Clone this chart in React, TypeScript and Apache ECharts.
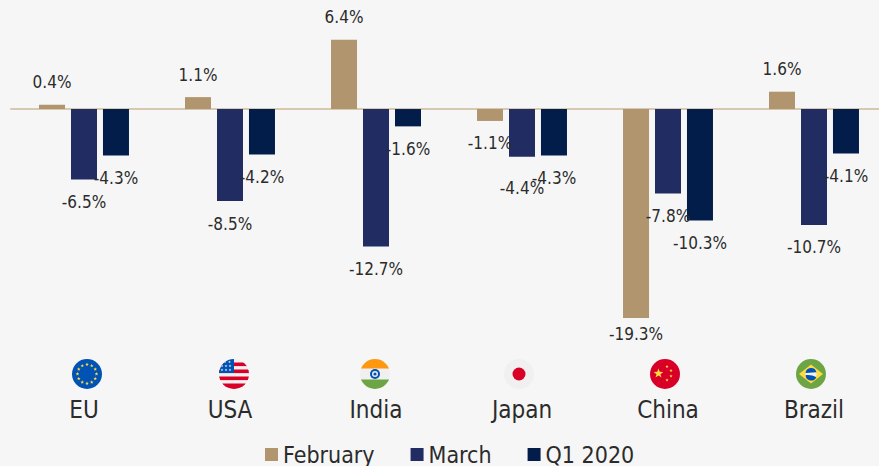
import React, { useEffect, useRef } from "react";
import * as echarts from "echarts";

const categories = ["EU", "USA", "India", "Japan", "China", "Brazil"];
const february = [0.4, 1.1, 6.4, -1.1, -19.3, 1.6];
const march = [-6.5, -8.5, -12.7, -4.4, -7.8, -10.7];
const q1 = [-4.3, -4.2, -1.6, -4.3, -10.3, -4.1];

const FONT = "'DejaVu Sans Condensed', 'DejaVu Sans', sans-serif";
const INK = "#2b2b2b";

const star = (cx: number, cy: number, r: number, fill: string, rot = 0) => {
  const pts: string[] = [];
  for (let i = 0; i < 10; i++) {
    const a = -Math.PI / 2 + rot + (i * Math.PI) / 5;
    const rr = i % 2 === 0 ? r : r * 0.42;
    pts.push(`${(cx + rr * Math.cos(a)).toFixed(2)},${(cy + rr * Math.sin(a)).toFixed(2)}`);
  }
  return `<polygon points="${pts.join(" ")}" fill="${fill}"/>`;
};

const wrap = (id: string, body: string) =>
  "data:image/svg+xml;utf8," +
  encodeURIComponent(
    `<svg xmlns="http://www.w3.org/2000/svg" width="30" height="30" viewBox="0 0 30 30"><defs><clipPath id="${id}"><circle cx="15" cy="15" r="15"/></clipPath></defs><g clip-path="url(#${id})">${body}</g></svg>`
  );

const euStars = Array.from({ length: 12 }, (_, i) => {
  const a = (i * Math.PI) / 6;
  return star(15 + 9.5 * Math.sin(a), 15 - 9.5 * Math.cos(a), 1.9, "#ffda44");
}).join("");

const usStripes = [0, 1, 2, 3]
  .map((i) => `<rect x="0" y="${3.5 + i * 7}" width="30" height="3.6" fill="#d80027"/>`)
  .join("");
const usStars = [
  [6, 3], [10.5, 3], [3, 7], [7, 7], [11, 7], [3, 11], [7, 11], [11, 11],
]
  .map(([x, y]) => star(x, y, 1.4, "#f0f0f0"))
  .join("");

const flags = [
  wrap("eu", `<rect width="30" height="30" fill="#0052b4"/>${euStars}`),
  wrap(
    "us",
    `<rect width="30" height="30" fill="#f0f0f0"/>${usStripes}<rect y="25" width="30" height="5" fill="#d80027"/><rect width="15" height="14" fill="#0052b4"/>${usStars}`
  ),
  wrap(
    "in",
    `<rect width="30" height="30" fill="#f0f0f0"/><rect width="30" height="9.5" fill="#ff9811"/><rect y="20.5" width="30" height="9.5" fill="#6da544"/><circle cx="15" cy="15" r="5" fill="#0052b4"/><circle cx="15" cy="15" r="3" fill="#f0f0f0"/><circle cx="15" cy="15" r="1.6" fill="#0052b4"/>`
  ),
  wrap("jp", `<rect width="30" height="30" fill="#f0f0f0"/><circle cx="15" cy="15" r="6.5" fill="#d80027"/>`),
  wrap(
    "cn",
    `<rect width="30" height="30" fill="#d80027"/>${star(8.5, 14.5, 5, "#ffda44")}${star(17, 7.5, 1.8, "#ffda44")}${star(21, 11.5, 1.8, "#ffda44")}${star(21, 17, 1.8, "#ffda44")}${star(17, 21, 1.8, "#ffda44")}`
  ),
  wrap(
    "br",
    `<rect width="30" height="30" fill="#6da544"/><polygon points="15,5.5 27,15 15,24.5 3,15" fill="#ffda44"/><circle cx="15" cy="15" r="5.6" fill="#f0f0f0"/><path d="M9.5 14a5.6 5.6 0 0 1 11-.8z M9.6 16.2c3.5-.5 7.500 .2 10.700 2a5.600 5.600 0 0 1-10.700-2z" fill="#0052b4"/>`
  ),
];
const flagCentreX = [87, 234, 375, 519, 665, 811];

const fmt = (v: number) => `${v.toFixed(1)}%`;

// Gap between a bar end and its label; two labels sit apart from the usual gap in the reference.
const labelGap = (seriesName: string, category: string) => {
  if (seriesName === "February" && category === "China") return 7;
  if (seriesName === "March" && category === "Japan") return 23;
  return 14;
};

const barData = (name: string, vals: number[]) =>
  vals.map((v, i) => ({
    value: v,
    label: {
      position: v < 0 ? "bottom" : "top",
      distance: labelGap(name, categories[i]),
    },
  }));

const makeSeries = (name: string, vals: number[], color: string) => ({
  name,
  type: "bar",
  xAxisIndex: 0,
  barWidth: 26,
  barGap: "23%",
  itemStyle: { color },
  label: {
    show: true,
    formatter: (p: any) => fmt(p.value),
    fontFamily: FONT,
    fontSize: 17,
    color: INK,
  },
  data: barData(name, vals),
});

export default function App() {
  const ref = useRef<HTMLDivElement>(null);
  useEffect(() => {
    document.body.style.margin = "0";
    document.body.style.background = "#f6f6f6";
    const chart = echarts.init(ref.current!, undefined, { renderer: "svg" });
    chart.setOption({
      animation: false,
      backgroundColor: "#f6f6f6",
      textStyle: { fontFamily: FONT },
      grid: { left: 11, right: 3, top: 0.7, height: 325 },
      legend: {
        left: 265,
        top: 443,
        icon: "rect",
        itemWidth: 13,
        itemHeight: 13,
        itemGap: 36,
        selectedMode: false,
        padding: 0,
        textStyle: { fontFamily: FONT, fontSize: 23, color: INK },
        data: ["February", "March", "Q1 2020"],
      },
      xAxis: [
        {
          type: "category",
          data: categories,
          axisLine: { onZero: true, lineStyle: { color: "#d8c8b2", width: 2 } },
          axisTick: { show: false },
          axisLabel: { show: false },
        },
        {
          type: "category",
          data: categories,
          position: "bottom",
          axisLine: { show: false, onZero: false },
          axisTick: { show: false },
          axisLabel: {
            show: true,
            margin: 72,
            interval: 0,
            fontFamily: FONT,
            fontSize: 24,
            color: INK,
          },
        },
      ],
      yAxis: { type: "value", min: -20, max: 10, show: false },
      series: [
        makeSeries("February", february, "#b0956f"),
        makeSeries("March", march, "#212d62"),
        makeSeries("Q1 2020", q1, "#021d4a"),
      ],
      graphic: flags.map((image, i) => ({
        type: "image",
        silent: true,
        x: flagCentreX[i] - 15,
        y: 359,
        style: { image, width: 30, height: 30 },
      })),
    });
    return () => chart.dispose();
  }, []);
  return (
    <div style={{ width: 879, height: 466, overflow: "hidden" }}>
      <div ref={ref} style={{ width: 890, height: 466 }} />
    </div>
  );
}
